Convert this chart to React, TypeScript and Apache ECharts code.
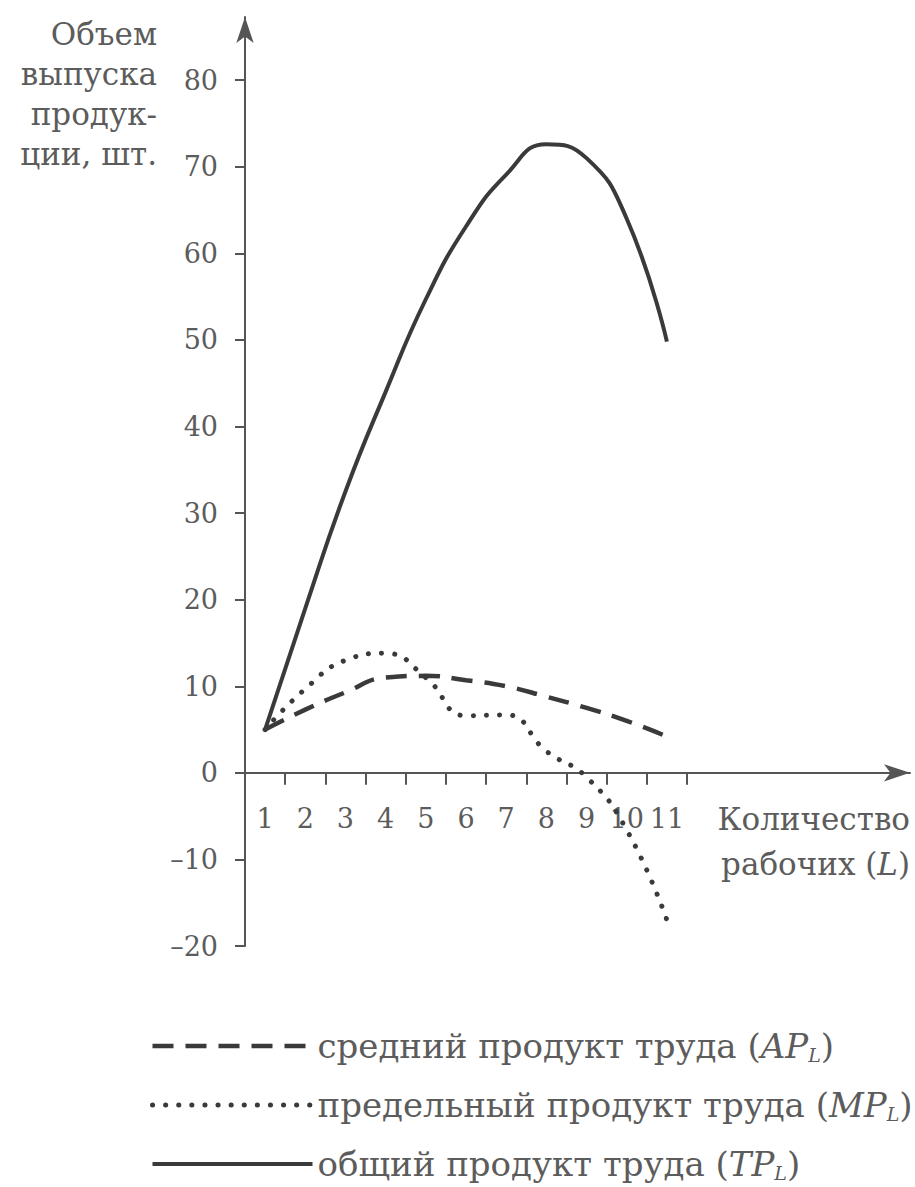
import React, { useEffect, useRef } from "react";
import * as echarts from "echarts";

// ---- data ----
const workers = [1, 2, 3, 4, 5, 6, 7, 8, 9, 10, 11];
const totalProduct = [5, 19, 32.5, 44, 54.7, 63.1, 69.1, 72.6, 71, 64, 49.8];
const averageProduct = [5, 7.3, 9.3, 11, 11.2, 10.7, 10, 8.8, 7.5, 6, 4.2];
const marginalProduct = [5, 9.7, 13, 13.8, 11, 6.6, 6.7, 2.5, -0.5, -6.6, -17];
const yTickValues = [-20, -10, 0, 10, 20, 30, 40, 50, 60, 70, 80];
const xTickMarks = [1.5, 2.5, 3.5, 4.5, 5.5, 6.5, 7.5, 8.5, 9.5, 10.5, 11.5];
const seriesNames = [
  "средний продукт труда",
  "предельный продукт труда",
  "общий продукт труда",
];
const seriesSymbols = ["AP", "MP", "TP"];
const yTitleLines = ["Объем", "выпуска", "продук-", "ции, шт."];
const xTitleLines = ["Количество", "рабочих ("];

const FONT = "DejaVu Serif, Liberation Serif, serif";
const TEXT = "#5c5c5c";
const AXIS = "#555555";
const LINE = "#3a3a3a";

const Y_MIN = -20;
const Y_MAX = 87.3;
const GRID_TOP = 17;
const GRID_BOTTOM = 241;

export default function App() {
  const ref = useRef<HTMLDivElement>(null);

  useEffect(() => {
    document.body.style.margin = "0";
    const chart = echarts.init(ref.current!, undefined, { renderer: "svg" });

    const pairs = (vals: number[]) => workers.map((w, i) => [w, vals[i]]);

    const richStyles = {
      t: { fontFamily: FONT, fontSize: 34, color: TEXT, lineHeight: 36 },
      i: { fontFamily: FONT, fontSize: 34, color: TEXT, fontStyle: "italic", lineHeight: 36 },
      s: { fontFamily: FONT, fontSize: 19, color: TEXT, fontStyle: "italic", lineHeight: 16, verticalAlign: "bottom" },
    };

    const legendText: Record<string, string> = {};
    seriesNames.forEach((n, i) => {
      legendText[n] = `{t|${n} (}{i|${seriesSymbols[i]}}{s|L}{t|)}`;
    });

    // place the x axis (with its labels) on the zero line of the y scale
    const gridHeight = 1187 - GRID_TOP - GRID_BOTTOM;
    const zeroOffset = -((0 - Y_MIN) / (Y_MAX - Y_MIN)) * gridHeight;

    const option: any = {
      animation: false,
      backgroundColor: "#ffffff",
      textStyle: { fontFamily: FONT },
      grid: { left: 245, right: 5, top: GRID_TOP, bottom: GRID_BOTTOM, containLabel: false, outerBoundsMode: "none" },
      xAxis: {
        type: "value",
        min: 0.5,
        max: 17.05,
        offset: zeroOffset,
        axisLine: {
          show: true,
          onZero: false,
          symbol: ["none", "arrow"],
          symbolSize: [13, 26],
          lineStyle: { color: AXIS, width: 2 },
        },
        axisTick: { show: true, length: 12, customValues: xTickMarks, lineStyle: { color: AXIS, width: 2 } },
        axisLabel: { customValues: workers, margin: 32, fontSize: 27, color: TEXT, fontFamily: FONT },
        splitLine: { show: false },
      },
      yAxis: {
        type: "value",
        min: Y_MIN,
        max: Y_MAX,
        axisLine: {
          show: true,
          onZero: false,
          symbol: ["none", "arrow"],
          symbolSize: [13, 26],
          lineStyle: { color: AXIS, width: 2 },
        },
        axisTick: { show: true, length: 10, customValues: yTickValues, lineStyle: { color: AXIS, width: 2 } },
        axisLabel: {
          customValues: yTickValues,
          margin: 27,
          fontSize: 27,
          color: TEXT,
          fontFamily: FONT,
          formatter: (v: number) => (v < 0 ? "\u2013" + Math.abs(v) : String(v)),
        },
        splitLine: { show: false },
      },
      legend: {
        orient: "vertical",
        left: 150,
        top: 1029,
        padding: 0,
        itemWidth: 160,
        itemHeight: 30,
        itemGap: 24,
        selectedMode: false,
        data: seriesNames,
        formatter: (name: string) => legendText[name],
        textStyle: { fontFamily: FONT, fontSize: 34, color: TEXT, rich: richStyles },
        lineStyle: { width: "inherit" },
        itemStyle: { opacity: 0 },
      },
      graphic: [
        {
          type: "text",
          x: 157,
          y: 14,
          style: {
            text: yTitleLines.join("\n"),
            fontFamily: FONT,
            fontSize: 31,
            lineHeight: 40,
            fill: TEXT,
            align: "right",
            verticalAlign: "top",
          },
        },
        {
          type: "text",
          x: 910,
          y: 796,
          style: {
            text: `{t|${xTitleLines[0]}}\n{t|${xTitleLines[1]}}{i|L}{t|)}`,
            rich: {
              t: { fontFamily: FONT, fontSize: 31, fill: TEXT, lineHeight: 45 },
              i: { fontFamily: FONT, fontSize: 31, fill: TEXT, fontStyle: "italic", lineHeight: 45 },
            },
            align: "right",
            verticalAlign: "top",
          },
        },
      ],
      series: [
        {
          name: seriesNames[0],
          type: "line",
          data: pairs(averageProduct),
          smooth: 0.5,
          symbol: "none",
          lineStyle: { color: LINE, width: 4.5, type: [21, 12] },
          itemStyle: { color: LINE },
        },
        {
          name: seriesNames[1],
          type: "line",
          data: pairs(marginalProduct),
          smooth: 0.5,
          symbol: "none",
          lineStyle: { color: LINE, width: 5, type: [0.1, 13], cap: "round" },
          itemStyle: { color: LINE },
        },
        {
          name: seriesNames[2],
          type: "line",
          data: pairs(totalProduct),
          smooth: 0.5,
          symbol: "none",
          lineStyle: { color: LINE, width: 4 },
          itemStyle: { color: LINE },
        },
      ],
    };

    chart.setOption(option);
    return () => chart.dispose();
  }, []);

  return <div ref={ref} style={{ width: 915, height: 1187 }} />;
}
